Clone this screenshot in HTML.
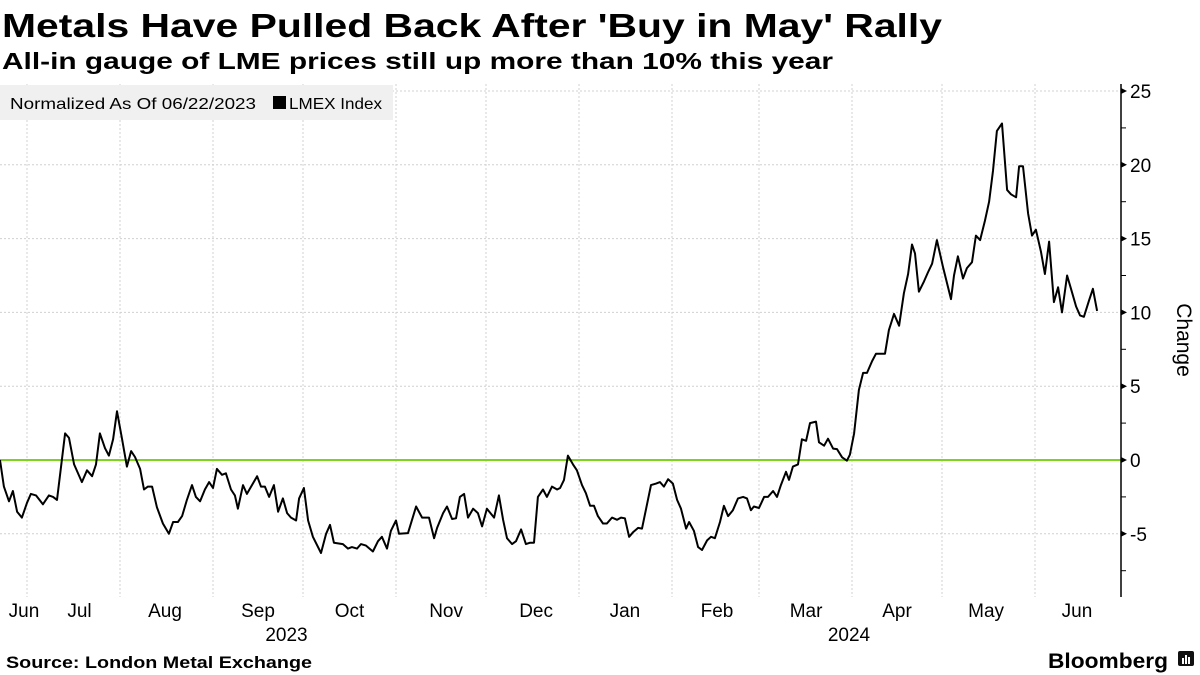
<!DOCTYPE html>
<html><head><meta charset="utf-8"><style>
html,body{margin:0;padding:0;background:#fff;}
svg{display:block;font-family:"Liberation Sans","DejaVu Sans",sans-serif;}
</style></head><body>
<svg id="chart" width="1200" height="675" viewBox="0 0 1200 675" xmlns="http://www.w3.org/2000/svg">
<text x="2" y="37" font-size="33" font-weight="bold" fill="#000" textLength="940" lengthAdjust="spacingAndGlyphs">Metals Have Pulled Back After 'Buy in May' Rally</text>
<text x="2" y="69" font-size="23" font-weight="bold" fill="#000" textLength="831" lengthAdjust="spacingAndGlyphs">All-in gauge of LME prices still up more than 10% this year</text>
<g id="grid"></g>
<rect x="0" y="85" width="393" height="35" fill="#f0f0f0"/>
<text x="10" y="109" font-size="16" fill="#000" textLength="246" lengthAdjust="spacingAndGlyphs">Normalized As Of 06/22/2023</text>
<rect x="273" y="96" width="13" height="13" fill="#000"/>
<text x="289" y="109" font-size="16" fill="#000" textLength="93" lengthAdjust="spacingAndGlyphs">LMEX Index</text>
<g id="axes"></g>
<g id="series"></g>
<text transform="translate(1177,340) rotate(90)" text-anchor="middle" font-size="21" fill="#000">Change</text>
<text x="6" y="668" font-size="17" font-weight="bold" fill="#000" textLength="306" lengthAdjust="spacingAndGlyphs">Source: London Metal Exchange</text>
<text x="1048" y="668" font-size="21" font-weight="bold" fill="#000" textLength="120" lengthAdjust="spacingAndGlyphs">Bloomberg</text>
<g>
<rect x="1178" y="651" width="16" height="15" rx="2" fill="#111"/>
<rect x="1182" y="658" width="2" height="6" fill="#fff"/><rect x="1185" y="655" width="2" height="9" fill="#fff"/><rect x="1188" y="657" width="2" height="7" fill="#fff"/>
</g>
</svg>
<script>
const days = [0,1.3,3,4.3,5.7,7.3,9,10.3,12,14.3,16.3,17.7,19,21.7,23,24.7,27.3,29,30.7,32,33.3,35,36.3,37.7,39,40.7,42.3,43.7,45,46.7,48,49.3,50.7,52.3,54.3,56.3,57.7,59.3,60.7,62.3,64,65.3,66.7,68.3,69.7,71,72.3,74,75.3,77,78.3,79.3,81,82.3,85.7,87,88.3,89.7,91.3,92.7,94.3,95.7,97,98.7,99.7,101.3,102.7,104.3,107,108.7,110,111.3,114.3,116,117.3,119,120.3,122,124.3,126,127.3,129,130.3,132,133,
136,138.7,140.7,143,144.7,145.7,147.7,149,150.7,152,153.3,154.7,156,157.7,159.3,160.7,162.3,164.7,166.3,167.7,169,170.7,172,173.7,175.3,176.7,178,179.3,181,182.3,184,185.7,186.7,188,189.3,191,192.3,194,195.3,196.7,198,199.3,201,202.3,204,205.7,207,208.3,209.7,211,212.7,214,217,218.7,220,221.3,222.7,224.3,225.7,227,228.7,229.7,231.3,232.7,234,235.7,237,238.3,240,241.3,242.7,244.3,246,247.7,249,250.3,251.3,253,254.7,256,257.7,259,260.3,262,263,264.3,266,267.3,268.7,270,272,273,
274.7,276,277.7,279,280.7,282.3,283.3,284.7,286.3,287.7,289,290.7,292,295,296.3,298,299.7,301.3,302.7,304,305,306.3,308,309.3,310.7,312.3,314.3,317,318,319.3,321,322.3,324,325.3,326.7,328.3,329.7,331,332.3,334,335.7,337,338.7,339.7,341,342.7,344,345.3,347,348.3,349.7,351.3,352.7,354,355.7,357,358.7,360,361.3,363,364.3,365.7];
const values = [0,-1.8,-2.8,-2.1,-3.5,-3.9,-2.9,-2.3,-2.4,-3.0,-2.4,-2.5,-2.7,1.8,1.5,-0.3,-1.5,-0.7,-1.1,-0.3,1.8,0.8,0.3,1.4,3.3,1.4,-0.45,0.6,0.2,-0.6,-2.0,-1.8,-1.8,-3.2,-4.3,-5.0,-4.2,-4.2,-3.8,-2.7,-1.7,-2.5,-2.8,-2.0,-1.5,-1.9,-0.6,-1.0,-0.9,-2.0,-2.4,-3.3,-1.7,-2.3,-1.1,-1.8,-1.8,-2.5,-1.7,-3.5,-2.6,-3.6,-3.9,-4.1,-2.6,-1.9,-4.1,-5.2,-6.3,-5.0,-4.4,-5.6,-5.7,-6.0,-5.9,-6.0,-5.7,-5.8,-6.2,-5.5,-5.2,-6.0,-4.8,-4.1,-5.0,
-4.95,-3.15,-3.9,-3.9,-5.3,-4.6,-3.6,-3.15,-4.0,-3.95,-2.5,-2.3,-3.9,-3.3,-3.6,-4.5,-3.3,-3.9,-2.4,-4.05,-5.3,-5.7,-5.5,-4.7,-5.7,-5.6,-5.6,-2.5,-2.0,-2.5,-1.8,-2.0,-1.9,-1.35,0.3,-0.3,-0.7,-1.7,-2.25,-3.1,-3.1,-3.8,-4.3,-4.3,-3.9,-4.05,-3.9,-3.95,-5.2,-4.9,-4.6,-4.65,-1.7,-1.6,-1.5,-1.8,-1.3,-1.6,-2.7,-3.3,-4.65,-4.2,-4.8,-5.9,-6.1,-5.45,-5.2,-5.3,-4.2,-3.1,-3.8,-3.4,-2.6,-2.5,-2.6,-3.4,-3.15,-3.25,-2.5,-2.5,-2.1,-2.5,-1.7,-0.8,-1.35,-0.45,-0.3,1.4,1.3,2.5,2.6,1.2,
0.97,1.44,0.77,0.74,0.18,-0.05,0.36,1.8,4.75,5.9,5.9,6.7,7.2,7.2,8.8,9.9,9.1,11.3,12.6,14.6,14.0,11.4,12.1,12.7,13.3,14.9,13.1,10.9,12.5,13.8,12.3,13.0,13.4,15.2,14.9,16.2,17.5,19.6,22.3,22.8,18.3,18.0,17.8,19.9,19.9,16.7,15.2,15.6,14.1,12.6,14.8,10.7,11.7,10.0,12.5,11.6,10.4,9.8,9.7,10.8,11.6,10.1];
const yTicks = [25,20,15,10,5,0,-5];
const yMinor = [22.5,17.5,12.5,7.5,2.5,-2.5,-7.5];
const monthStarts = [9,40,71,101,132,162,193,224,253,284,314,345];
const monthLabels = ["Jun","Jul","Aug","Sep","Oct","Nov","Dec","Jan","Feb","Mar","Apr","May","Jun"];
const monthLabelDays = [8,26.5,55,86,116.5,148.7,178.7,208.3,239,268.7,299,328.7,359];
const yearLabels = ["2023","2024"];
const yearLabelDays = [95.5,283];

const NS="http://www.w3.org/2000/svg";
const xS = d => d*3.0;
const yS = v => 460 - v*14.76;
function mk(tag, attrs, parent){const e=document.createElementNS(NS,tag);for(const k in attrs)e.setAttribute(k,attrs[k]);parent.appendChild(e);return e;}
const grid=document.getElementById('grid'), axes=document.getElementById('axes'), series=document.getElementById('series');
yTicks.forEach(v=>{
  if(v===0) return;
  const l=mk('line',{x1:0,x2:1121,y1:yS(v),y2:yS(v),stroke:'#d0d0d0','stroke-dasharray':'2,2','stroke-width':1},grid);
  
  
});
monthStarts.forEach(d=>{
  const l=mk('line',{x1:xS(d),x2:xS(d),y1:84,y2:597,stroke:'#d0d0d0','stroke-dasharray':'2,2','stroke-width':1},grid);
  
  
});
const zl=mk('line',{x1:0,x2:1121,y1:yS(0),y2:yS(0),stroke:'#7ed321','stroke-width':2},axes);


const ax=mk('line',{x1:1121,x2:1121,y1:84,y2:597,stroke:'#000','stroke-width':1.5},axes);


yTicks.forEach(v=>{
  const t=mk('path',{d:`M1121,${yS(v)-3}L1127,${yS(v)}L1121,${yS(v)+3}Z`,fill:'#000'},axes);
  
  
  const tx=mk('text',{x:1130,y:yS(v)+7,'font-size':19,fill:'#000'},axes);
  tx.textContent=(v<0?'-'+Math.abs(v):String(v));
  
  
});
yMinor.forEach(v=>{
  const t=mk('line',{x1:1121,x2:1126,y1:yS(v),y2:yS(v),stroke:'#000','stroke-width':1},axes);
  
  
});
monthLabels.forEach((m,i)=>{
  const t=mk('text',{x:xS(monthLabelDays[i]),y:617,'font-size':19,fill:'#000','text-anchor':'middle'},axes);
  t.textContent=m;
  
  
});
yearLabels.forEach((y,i)=>{
  const t=mk('text',{x:xS(yearLabelDays[i]),y:641,'font-size':19,fill:'#000','text-anchor':'middle'},axes);
  t.textContent=y;
  
  
});
const d=days.map((dd,i)=>(i?'L':'M')+xS(dd).toFixed(1)+','+yS(values[i]).toFixed(1)).join('');
const p=mk('path',{d:d,fill:'none',stroke:'#000','stroke-width':2,'stroke-linejoin':'round'},series);


</script>
</body></html>
